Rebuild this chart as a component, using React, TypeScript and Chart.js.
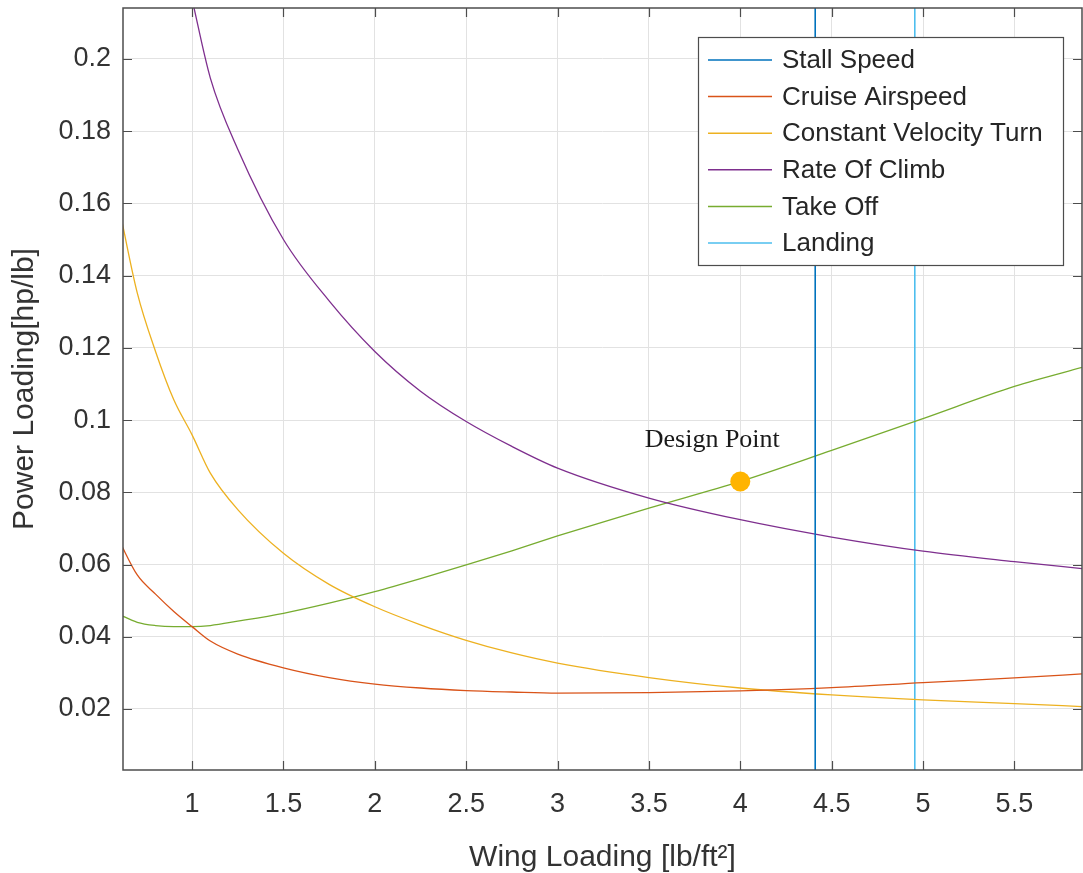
import React, { useEffect, useRef } from "react";
import { Chart, registerables } from "chart.js";

Chart.register(...registerables);

// Wing loading samples [lb/ft^2]
const wingLoading = [0.6, 0.7, 0.8, 0.9, 1.0, 1.1, 1.25, 1.5, 1.75, 2.0, 2.25, 2.5, 2.75, 3.0, 3.5, 4.0, 4.5, 5.0, 5.5, 5.9];

// Power loading [hp/lb] per constraint
const cruiseAirspeed = [0.0667, 0.0571, 0.0518, 0.047, 0.0428, 0.0388, 0.0352, 0.0314, 0.0287, 0.0269, 0.0258, 0.0251, 0.0247, 0.0244, 0.0245, 0.025, 0.0259, 0.0273, 0.0286, 0.0298];
const constantVelocityTurn = [0.159, 0.1352, 0.119, 0.1056, 0.0959, 0.0853, 0.0752, 0.0631, 0.0545, 0.0483, 0.0433, 0.039, 0.0355, 0.0327, 0.0287, 0.0258, 0.0239, 0.0225, 0.0215, 0.0206];
const rateOfClimb = [null, null, null, null, 0.2165, 0.1947, 0.175, 0.15, 0.133, 0.119, 0.108, 0.0996, 0.0927, 0.0867, 0.0784, 0.0724, 0.0676, 0.0637, 0.0608, 0.0587];
const takeOff = [0.0462, 0.044, 0.0431, 0.0428, 0.0428, 0.0431, 0.0443, 0.0465, 0.0493, 0.0525, 0.0561, 0.0599, 0.0638, 0.0679, 0.0756, 0.083, 0.0916, 0.1004, 0.1093, 0.115];

// Vertical constraints (wing loading)
const stallSpeedWL = 4.41;
const landingWL = 4.955;

// Design point
const designPointWL = 4.0;
const designPointPL = 0.083;
const designPointLabel = "Design Point";

const seriesNames = ["Stall Speed", "Cruise Airspeed", "Constant Velocity Turn", "Rate Of Climb", "Take Off", "Landing"];
const seriesColors = ["#0072BD", "#D95319", "#EDB120", "#7E2F8E", "#77AC30", "#4DBEEE"];

const xTicks = [1, 1.5, 2, 2.5, 3, 3.5, 4, 4.5, 5, 5.5];
const xTickLabels = ["1", "1.5", "2", "2.5", "3", "3.5", "4", "4.5", "5", "5.5"];
const yTicks = [0.02, 0.04, 0.06, 0.08, 0.1, 0.12, 0.14, 0.16, 0.18, 0.2];
const yTickLabels = ["0.02", "0.04", "0.06", "0.08", "0.1", "0.12", "0.14", "0.16", "0.18", "0.2"];

const xTitle = "Wing Loading [lb/ft\u00B2]";
const yTitle = "Power Loading[hp/lb]";

const SANS = '"Liberation Sans", Arial, Helvetica, sans-serif';
const SERIF = '"Liberation Serif", "Times New Roman", serif';

function toPoints(ys: (number | null)[]) {
  const pts: { x: number; y: number }[] = [];
  ys.forEach((v, i) => {
    if (v !== null) pts.push({ x: wingLoading[i], y: v });
  });
  return pts;
}

const zeroPadding = (s: any) => {
  s.paddingTop = 0;
  s.paddingBottom = 0;
  s.paddingLeft = 0;
  s.paddingRight = 0;
};

const decorPlugin = {
  id: "decor",
  afterDatasetsDraw(chart: any) {
    const { ctx, chartArea: a, scales } = chart;
    const xs = scales.x;
    const ys = scales.y;
    ctx.save();

    // Design point label
    const dpx = xs.getPixelForValue(designPointWL);
    const dpy = ys.getPixelForValue(designPointPL);
    ctx.font = "26px " + SERIF;
    ctx.fillStyle = "#1a1a1a";
    ctx.textAlign = "center";
    ctx.textBaseline = "alphabetic";
    ctx.fillText(designPointLabel, dpx - 28, dpy - 34);

    // Axes box
    ctx.strokeStyle = "#4d4d4d";
    ctx.lineWidth = 1.5;
    ctx.strokeRect(a.left, a.top, a.right - a.left, a.bottom - a.top);

    // Inward ticks on all sides
    const T = 9;
    ctx.beginPath();
    xTicks.forEach((v) => {
      const p = Math.round(xs.getPixelForValue(v)) + 0.5;
      ctx.moveTo(p, a.bottom);
      ctx.lineTo(p, a.bottom - T);
      ctx.moveTo(p, a.top);
      ctx.lineTo(p, a.top + T);
    });
    yTicks.forEach((v) => {
      const p = Math.round(ys.getPixelForValue(v)) + 0.5;
      ctx.moveTo(a.left, p);
      ctx.lineTo(a.left + T, p);
      ctx.moveTo(a.right, p);
      ctx.lineTo(a.right - T, p);
    });
    ctx.lineWidth = 1.2;
    ctx.stroke();

    // Legend box
    const lx = a.right - 384;
    const ly = a.top + 29;
    const lw = 365;
    const lh = 228;
    ctx.fillStyle = "#ffffff";
    ctx.fillRect(lx, ly, lw, lh);
    ctx.strokeStyle = "#4d4d4d";
    ctx.lineWidth = 1.2;
    ctx.strokeRect(lx + 0.5, ly + 0.5, lw, lh);
    ctx.font = "26px " + SANS;
    ctx.textAlign = "left";
    ctx.textBaseline = "middle";
    seriesNames.forEach((name, i) => {
      const cy = ly + 23 + i * 36.6;
      ctx.strokeStyle = seriesColors[i];
      ctx.lineWidth = 1.5;
      ctx.beginPath();
      ctx.moveTo(lx + 10, cy);
      ctx.lineTo(lx + 74, cy);
      ctx.stroke();
      ctx.fillStyle = "#262626";
      ctx.fillText(name, lx + 84, cy + 1);
    });

    ctx.restore();
  },
};

export default function App() {
  const canvasRef = useRef<HTMLCanvasElement | null>(null);

  useEffect(() => {
    const canvas = canvasRef.current;
    if (!canvas) return;

    const curve = (label: string, ys: (number | null)[], color: string) => ({
      label,
      data: toPoints(ys),
      borderColor: color,
      backgroundColor: color,
      borderWidth: 1.3,
      pointRadius: 0,
      fill: false,
      cubicInterpolationMode: "monotone" as const,
    });
    const vline = (label: string, xv: number, color: string) => ({
      label,
      data: [
        { x: xv, y: -1 },
        { x: xv, y: 1 },
      ],
      borderColor: color,
      backgroundColor: color,
      borderWidth: 1.6,
      pointRadius: 0,
      fill: false,
    });

    const chart = new Chart(canvas, {
      type: "line",
      data: {
        datasets: [
          {
            label: designPointLabel,
            data: [{ x: designPointWL, y: designPointPL }],
            showLine: false,
            pointRadius: 10,
            pointBackgroundColor: "#FFB400",
            pointBorderWidth: 0,
            borderColor: "#FFB400",
          } as any,
          vline(seriesNames[0], stallSpeedWL, seriesColors[0]),
          curve(seriesNames[1], cruiseAirspeed, seriesColors[1]),
          curve(seriesNames[2], constantVelocityTurn, seriesColors[2]),
          curve(seriesNames[3], rateOfClimb, seriesColors[3]),
          curve(seriesNames[4], takeOff, seriesColors[4]),
          vline(seriesNames[5], landingWL, seriesColors[5]),
        ],
      },
      options: {
        responsive: false,
        animation: false,
        layout: { autoPadding: false, padding: { top: 8, right: 1, left: 10, bottom: 0 } },
        plugins: {
          legend: { display: false },
          tooltip: { enabled: false },
        },
        scales: {
          x: {
            type: "linear",
            min: 0.622,
            max: 5.87,
            afterBuildTicks: (s: any) => {
              s.ticks = xTicks.map((v) => ({ value: v }));
            },
            afterFit: (s: any) => {
              s.height = 103;
              zeroPadding(s);
            },
            grid: { color: "#e2e2e2", lineWidth: 1, drawTicks: false },
            border: { display: false },
            ticks: {
              autoSkip: false,
              maxRotation: 0,
              padding: 18,
              color: "#333333",
              font: { family: SANS, size: 27 },
              callback: (v: any) => {
                const i = xTicks.indexOf(Number(v));
                return i >= 0 ? xTickLabels[i] : "";
              },
            },
            title: {
              display: true,
              text: xTitle,
              color: "#333333",
              padding: 0,
              font: { family: SANS, size: 30, lineHeight: 1 },
            },
          },
          y: {
            type: "linear",
            min: 0.0031,
            max: 0.2141,
            afterBuildTicks: (s: any) => {
              s.ticks = yTicks.map((v) => ({ value: v }));
            },
            afterFit: (s: any) => {
              s.width = 113;
              zeroPadding(s);
            },
            grid: { color: "#e2e2e2", lineWidth: 1, drawTicks: false },
            border: { display: false },
            ticks: {
              autoSkip: false,
              padding: 12,
              color: "#333333",
              font: { family: SANS, size: 27 },
              callback: (v: any) => {
                const i = yTicks.indexOf(Number(v));
                return i >= 0 ? yTickLabels[i] : "";
              },
            },
            title: {
              display: true,
              text: yTitle,
              color: "#333333",
              padding: 0,
              font: { family: SANS, size: 30, lineHeight: 1 },
            },
          },
        },
      },
      plugins: [decorPlugin],
    });

    return () => {
      chart.destroy();
    };
  }, []);

  return (
    <div style={{ position: "absolute", left: 0, top: 0, width: 1083, height: 873, background: "#ffffff" }}>
      <canvas ref={canvasRef} width={1083} height={873} style={{ display: "block" }} />
    </div>
  );
}
